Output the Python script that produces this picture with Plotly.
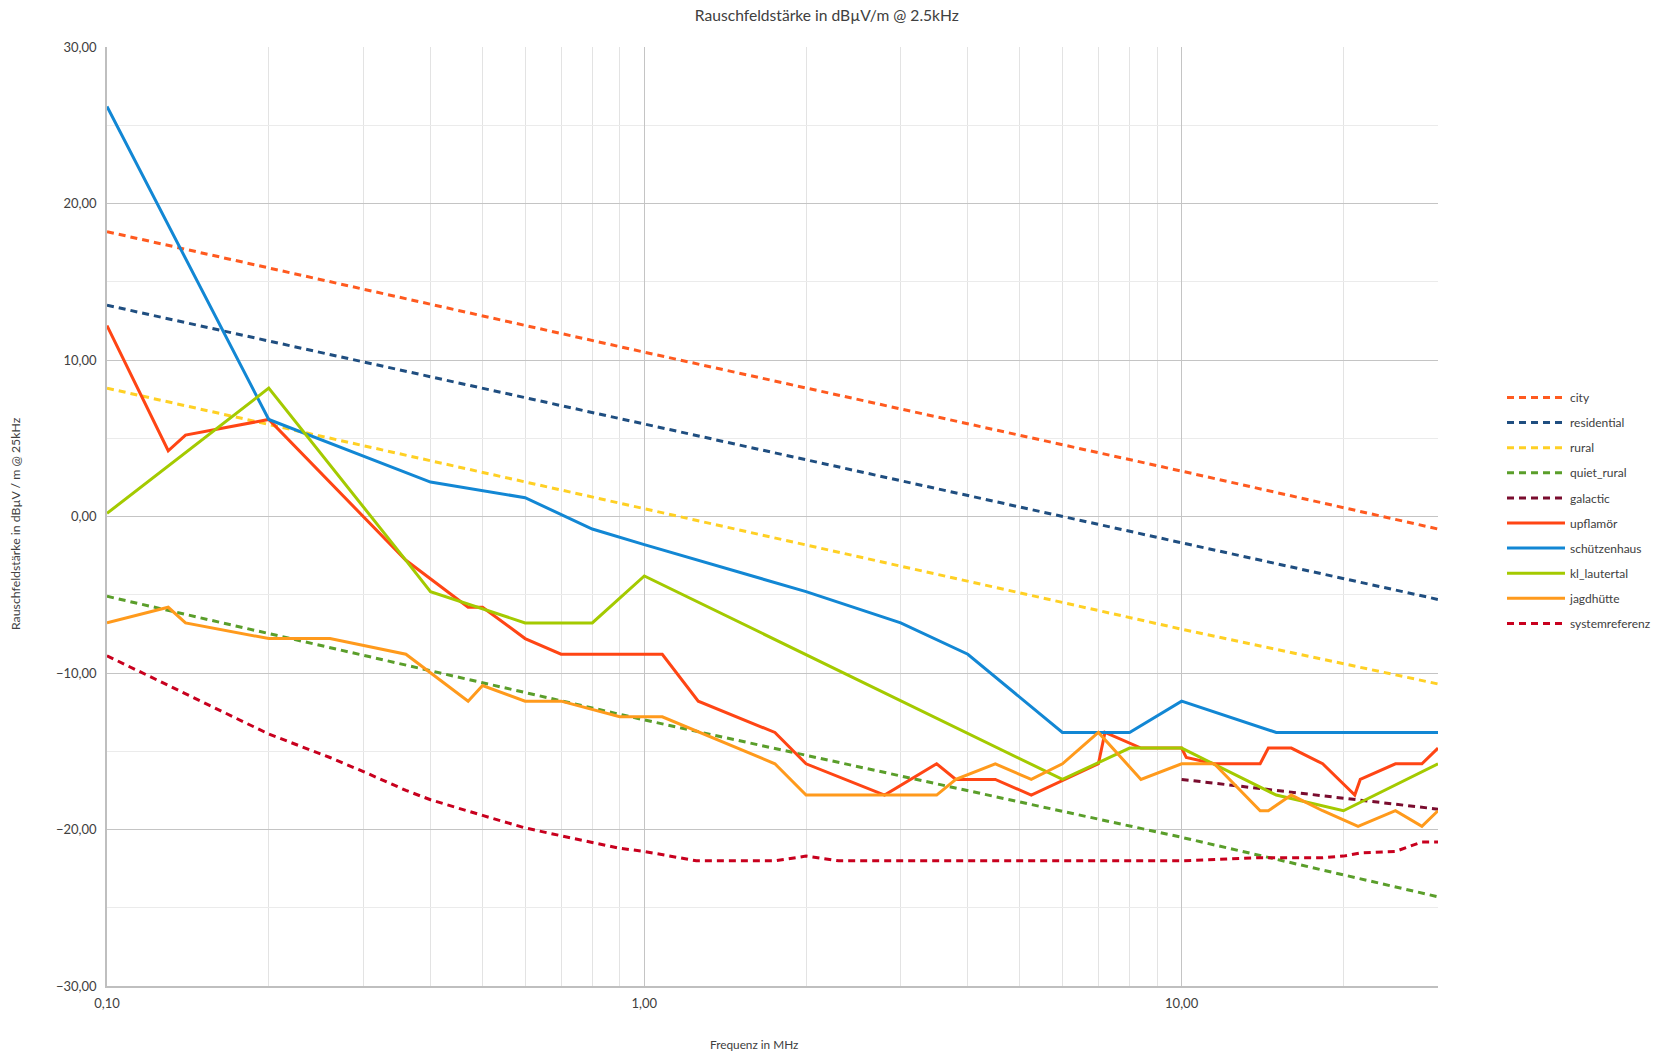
import plotly.graph_objects as go

# ---------------- data ----------------
model_freq = [0.1, 1.0, 10.0, 30.0]
city = [18.2, 10.5, 2.9, -0.8]
residential = [13.5, 5.9, -1.7, -5.3]
rural = [8.2, 0.5, -7.2, -10.7]
quiet_rural = [-5.1, -13.0, -20.5, -24.3]

galactic_freq = [10.0, 30.0]
galactic = [-16.8, -18.7]

upflamoer_freq = [0.1, 0.13, 0.14, 0.2, 0.36, 0.47, 0.5, 0.6, 0.7, 1.08, 1.26, 1.75, 2.0, 2.8,
                  3.5, 3.8, 4.5, 5.25, 7.0, 7.2, 8.4, 10.0, 10.2, 11.5, 14.0, 14.5, 16.0, 18.3,
                  21.0, 21.5, 25.0, 28.0, 30.0]
upflamoer = [12.2, 4.2, 5.2, 6.2, -2.8, -5.8, -5.8, -7.8, -8.8, -8.8, -11.8, -13.8, -15.8, -17.8,
             -15.8, -16.8, -16.8, -17.8, -15.8, -13.8, -14.8, -14.8, -15.4, -15.8, -15.8, -14.8, -14.8, -15.8,
             -17.8, -16.8, -15.8, -15.8, -14.8]

schuetzenhaus_freq = [0.1, 0.2, 0.4, 0.6, 0.8, 1.0, 2.0, 3.0, 4.0, 6.0, 8.0, 10.0, 15.0, 30.0]
schuetzenhaus = [26.2, 6.2, 2.2, 1.2, -0.8, -1.8, -4.8, -6.8, -8.8, -13.8, -13.8, -11.8, -13.8, -13.8]

lautertal_freq = [0.1, 0.2, 0.36, 0.4, 0.6, 0.8, 1.0, 6.0, 8.0, 10.0, 15.0, 20.0, 30.0]
lautertal = [0.2, 8.2, -2.8, -4.8, -6.8, -6.8, -3.8, -16.8, -14.8, -14.8, -17.8, -18.8, -15.8]

jagdhuette_freq = [0.1, 0.13, 0.14, 0.2, 0.26, 0.36, 0.47, 0.5, 0.6, 0.7, 0.9, 1.08, 1.75, 2.0,
                   3.5, 3.8, 4.5, 5.25, 6.0, 7.0, 8.4, 10.0, 11.5, 14.0, 14.5, 16.0, 18.3, 21.3,
                   25.0, 28.0, 30.0]
jagdhuette = [-6.8, -5.8, -6.8, -7.8, -7.8, -8.8, -11.8, -10.8, -11.8, -11.8, -12.8, -12.8, -15.8, -17.8,
              -17.8, -16.8, -15.8, -16.8, -15.8, -13.8, -16.8, -15.8, -15.8, -18.8, -18.8, -17.8, -18.8, -19.8,
              -18.8, -19.8, -18.8]

sysref_freq = [0.1, 0.13, 0.2, 0.26, 0.3, 0.36, 0.4, 0.5, 0.6, 0.7, 0.8, 0.9, 1.0, 1.25, 1.75, 2.0,
               2.3, 10.0, 14.0, 18.3, 20.0, 21.5, 25.0, 26.0, 28.0, 30.0]
sysref = [-8.9, -10.8, -13.9, -15.4, -16.3, -17.5, -18.1, -19.1, -19.9, -20.4, -20.8, -21.2, -21.4, -22.0,
          -22.0, -21.7, -22.0, -22.0, -21.8, -21.8, -21.7, -21.5, -21.4, -21.2, -20.8, -20.8]

# ---------------- figure ----------------
FONT = "Lato, 'Open Sans', sans-serif"
TXT = "#404040"
DASH = "7px,5px"

series = [
    ("city", model_freq, city, "#FF5A1F", DASH),
    ("residential", model_freq, residential, "#1F4E80", DASH),
    ("rural", model_freq, rural, "#FFD024", DASH),
    ("quiet_rural", model_freq, quiet_rural, "#5A9E2A", DASH),
    ("galactic", galactic_freq, galactic, "#7A0C2E", DASH),
    ("upflamör", upflamoer_freq, upflamoer, "#FF4514", "solid"),
    ("schützenhaus", schuetzenhaus_freq, schuetzenhaus, "#1287D4", "solid"),
    ("kl_lautertal", lautertal_freq, lautertal, "#A4CA00", "solid"),
    ("jagdhütte", jagdhuette_freq, jagdhuette, "#FF9A1C", "solid"),
    ("systemreferenz", sysref_freq, sysref, "#C8001E", DASH),
]

fig = go.Figure()
for name, xs, ys, color, dash in series:
    fig.add_trace(go.Scatter(
        x=xs, y=ys, name=name, mode="lines", legendgroup=name,
        line=dict(color=color, width=3, dash=dash),
    ))

minor_x = [m * 10 ** e for e in (-1, 0, 1) for m in range(2, 10) if m * 10 ** e <= 30.0001]

fig.update_layout(
    width=1657, height=1053,
    margin=dict(l=107, r=219, t=47, b=67, autoexpand=False),
    paper_bgcolor="white", plot_bgcolor="white",
    separators=",.",
    font=dict(family=FONT, size=12, color=TXT),
    title=dict(text="Rauschfeldstärke in dBµV/m @ 2.5kHz", x=0.499, xref="container",
               y=1 - 16 / 1053, yref="container", xanchor="center", yanchor="middle",
               font=dict(family=FONT, size=15.6, color=TXT)),
    showlegend=True,
    legend=dict(x=(1502 - 107) / 1331, xanchor="left", y=1 - (383 - 47) / 939, yanchor="top",
                font=dict(family=FONT, size=12, color=TXT), tracegroupgap=6.1,
                itemwidth=58, bgcolor="rgba(0,0,0,0)"),
    xaxis=dict(
        type="log", range=[-1, 1.4771213], tickvals=[0.1, 1, 10], tickformat=".2f",
        showgrid=True, gridcolor="#C4C4C4", gridwidth=1,
        minor=dict(tickvals=minor_x, showgrid=True, gridcolor="#E3E3E3", gridwidth=1, ticks=""),
        showline=True, linecolor="#BFBFBF", linewidth=1.5,
        ticks="outside", ticklen=5, tickcolor="rgba(0,0,0,0)",
        zeroline=False, tickfont=dict(family=FONT, size=13, color=TXT),
    ),
    yaxis=dict(
        range=[-30, 30], dtick=10, tick0=0, tickformat=".2f",
        showgrid=True, gridcolor="#C4C4C4", gridwidth=1,
        minor=dict(dtick=5, showgrid=True, gridcolor="#EBEBEB", gridwidth=1, ticks=""),
        showline=True, linecolor="#BFBFBF", linewidth=1.5,
        ticks="outside", ticklen=6, tickcolor="rgba(0,0,0,0)",
        zeroline=False, tickfont=dict(family=FONT, size=13, color=TXT),
    ),
    annotations=[
        dict(text="Frequenz in MHz", xref="paper", yref="paper",
             x=(754 - 107) / 1331, y=(986 - 1044) / 939, xanchor="center", yanchor="middle",
             showarrow=False, font=dict(family=FONT, size=11.8, color=TXT)),
        dict(text="Rauschfeldstärke in dBµV / m @ 25kHz", xref="paper", yref="paper",
             x=(15 - 107) / 1331, y=1 - (524 - 47) / 939, xanchor="center", yanchor="middle",
             textangle=-90, showarrow=False, font=dict(family=FONT, size=12.3, color=TXT)),
    ],
)

fig.write_html("out.html", config={"displayModeBar": False},
               post_script="document.body.style.margin='0px';")
